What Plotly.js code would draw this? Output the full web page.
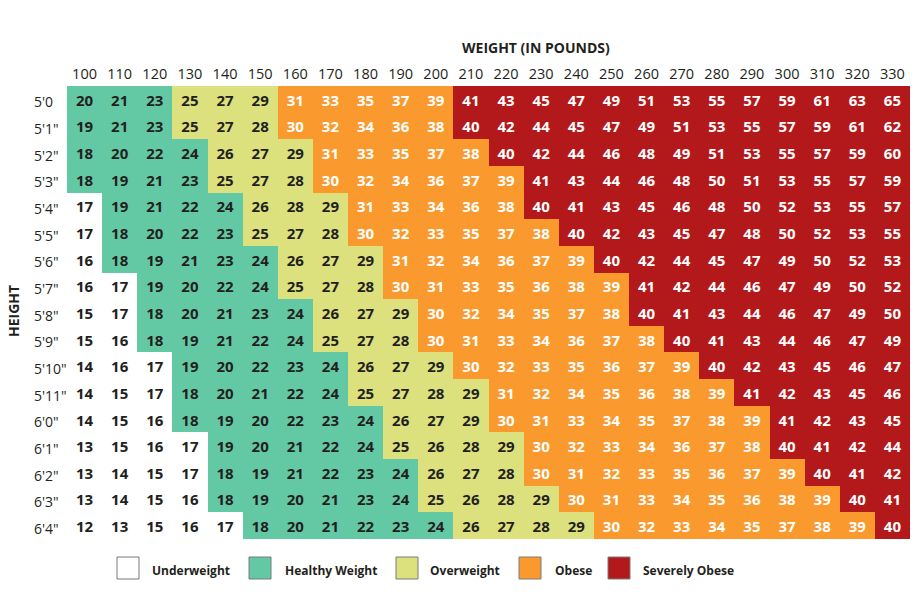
<!DOCTYPE html>
<html>
<head>
<meta charset="utf-8">
<script src="https://cdn.plot.ly/plotly-3.0.1.min.js"></script>
<style>
  html, body { margin: 0; padding: 0; background: #fff; }
  #bmi-chart { width: 915px; height: 610px; }
</style>
</head>
<body>
<div id="bmi-chart"></div>
<script>
var weights = [100, 110, 120, 130, 140, 150, 160, 170, 180, 190, 200, 210,
               220, 230, 240, 250, 260, 270, 280, 290, 300, 310, 320, 330];

var heights = ["5'0", "5'1\"", "5'2\"", "5'3\"", "5'4\"", "5'5\"", "5'6\"", "5'7\"", "5'8\"",
               "5'9\"", "5'10\"", "5'11\"", "6'0\"", "6'1\"", "6'2\"", "6'3\"", "6'4\""];

var bmi = [
  [20, 21, 23, 25, 27, 29, 31, 33, 35, 37, 39, 41, 43, 45, 47, 49, 51, 53, 55, 57, 59, 61, 63, 65],
  [19, 21, 23, 25, 27, 28, 30, 32, 34, 36, 38, 40, 42, 44, 45, 47, 49, 51, 53, 55, 57, 59, 61, 62],
  [18, 20, 22, 24, 26, 27, 29, 31, 33, 35, 37, 38, 40, 42, 44, 46, 48, 49, 51, 53, 55, 57, 59, 60],
  [18, 19, 21, 23, 25, 27, 28, 30, 32, 34, 36, 37, 39, 41, 43, 44, 46, 48, 50, 51, 53, 55, 57, 59],
  [17, 19, 21, 22, 24, 26, 28, 29, 31, 33, 34, 36, 38, 40, 41, 43, 45, 46, 48, 50, 52, 53, 55, 57],
  [17, 18, 20, 22, 23, 25, 27, 28, 30, 32, 33, 35, 37, 38, 40, 42, 43, 45, 47, 48, 50, 52, 53, 55],
  [16, 18, 19, 21, 23, 24, 26, 27, 29, 31, 32, 34, 36, 37, 39, 40, 42, 44, 45, 47, 49, 50, 52, 53],
  [16, 17, 19, 20, 22, 24, 25, 27, 28, 30, 31, 33, 35, 36, 38, 39, 41, 42, 44, 46, 47, 49, 50, 52],
  [15, 17, 18, 20, 21, 23, 24, 26, 27, 29, 30, 32, 34, 35, 37, 38, 40, 41, 43, 44, 46, 47, 49, 50],
  [15, 16, 18, 19, 21, 22, 24, 25, 27, 28, 30, 31, 33, 34, 36, 37, 38, 40, 41, 43, 44, 46, 47, 49],
  [14, 16, 17, 19, 20, 22, 23, 24, 26, 27, 29, 30, 32, 33, 35, 36, 37, 39, 40, 42, 43, 45, 46, 47],
  [14, 15, 17, 18, 20, 21, 22, 24, 25, 27, 28, 29, 31, 32, 34, 35, 36, 38, 39, 41, 42, 43, 45, 46],
  [14, 15, 16, 18, 19, 20, 22, 23, 24, 26, 27, 29, 30, 31, 33, 34, 35, 37, 38, 39, 41, 42, 43, 45],
  [13, 15, 16, 17, 19, 20, 21, 22, 24, 25, 26, 28, 29, 30, 32, 33, 34, 36, 37, 38, 40, 41, 42, 44],
  [13, 14, 15, 17, 18, 19, 21, 22, 23, 24, 26, 27, 28, 30, 31, 32, 33, 35, 36, 37, 39, 40, 41, 42],
  [13, 14, 15, 16, 18, 19, 20, 21, 23, 24, 25, 26, 28, 29, 30, 31, 33, 34, 35, 36, 38, 39, 40, 41],
  [12, 13, 15, 16, 17, 18, 20, 21, 22, 23, 24, 26, 27, 28, 29, 30, 32, 33, 34, 35, 37, 38, 39, 40]
];

var categoryLabels = ['Underweight', 'Healthy Weight', 'Overweight', 'Obese', 'Severely Obese'];
var categoryColors = ['#ffffff', '#63c9a5', '#dce07d', '#fa9a2e', '#b3191b'];
var categoryStart = [0, 18, 25, 30, 40];   // lowest BMI in each band

var FONT = '"Open Sans", "DejaVu Sans", sans-serif';
var DARK = '#231f20';

function band(v) {
  var c = 0;
  for (var i = 0; i < categoryStart.length; i++) {
    if (v >= categoryStart[i]) c = i;
  }
  return c;
}

// category grid for the cell colours
var cat = bmi.map(function (row) { return row.map(band); });

// discrete colour scale, one flat step per band
var n = categoryColors.length;
var scale = [];
categoryColors.forEach(function (c, i) {
  scale.push([i / n, c]);
  scale.push([(i + 1) / n, c]);
});

// flat lists for the number labels
var tx = [], ty = [], tt = [], tc = [];
bmi.forEach(function (row, r) {
  row.forEach(function (v, c) {
    tx.push(weights[c]);
    ty.push(heights[r]);
    tt.push(String(v));
    tc.push(band(v) >= 3 ? '#ffffff' : DARK);
  });
});

var cells = {
  type: 'heatmap',
  x: weights,
  y: heights,
  z: cat,
  zmin: -0.5,
  zmax: n - 0.5,
  colorscale: scale,
  showscale: false,
  hoverinfo: 'skip'
};

// numbers sit a little below the cell middle in the original,
// so they go on an overlaid copy of the y axis nudged down a bit
var numbers = {
  type: 'scatter',
  mode: 'text',
  x: tx,
  y: ty,
  yaxis: 'y2',
  text: tt,
  textposition: 'middle center',
  textfont: { family: FONT, size: 15, weight: 700, color: tc },
  hoverinfo: 'skip',
  showlegend: false
};

var M = { l: 67, r: 5, t: 86, b: 71 };
var W = 915, H = 610;
var pw = W - M.l - M.r, ph = H - M.t - M.b;
function px(x) { return (x - M.l) / pw; }
function py(y) { return 1 - (y - M.t) / ph; }
var nudge = 0.1;

var annotations = [];
heights.forEach(function (h) {
  annotations.push({
    xref: 'paper', yref: 'y2', x: px(32), y: h, xanchor: 'left', yanchor: 'middle',
    text: h, showarrow: false, font: { family: FONT, size: 14, color: DARK }
  });
});
annotations.push({
  xref: 'paper', yref: 'paper', x: px(536), y: py(47), xanchor: 'center', yanchor: 'middle',
  text: '<b>WEIGHT (IN POUNDS)</b>', showarrow: false, font: { family: FONT, size: 14, color: DARK }
});
annotations.push({
  xref: 'paper', yref: 'paper', x: px(13), y: py(311), xanchor: 'center', yanchor: 'middle',
  text: '<b>HEIGHT</b>', textangle: -90, showarrow: false, font: { family: FONT, size: 14, color: DARK }
});

// legend along the bottom: swatch + label
var boxLeft = [117, 249, 396, 519, 608];
var labelLeft = [150, 283, 428, 553, 641];
var shapes = [];
categoryLabels.forEach(function (lab, i) {
  shapes.push({
    type: 'rect', xref: 'paper', yref: 'paper',
    x0: px(boxLeft[i]), x1: px(boxLeft[i] + 22), y0: py(557), y1: py(579),
    fillcolor: categoryColors[i], line: { color: '#7a7a7a', width: 1 }
  });
  annotations.push({
    xref: 'paper', yref: 'paper', x: px(labelLeft[i]), y: py(570), xanchor: 'left', yanchor: 'middle',
    text: '<b>' + lab + '</b>', showarrow: false, font: { family: FONT, size: 12, color: DARK }
  });
});

var yBase = {
  type: 'category',
  categoryorder: 'array',
  categoryarray: heights,
  showticklabels: false,
  ticks: '',
  showgrid: false,
  zeroline: false,
  showline: false,
  fixedrange: true
};

var layout = {
  width: W,
  height: H,
  margin: M,
  paper_bgcolor: '#ffffff',
  plot_bgcolor: '#ffffff',
  showlegend: false,
  font: { family: FONT, color: DARK },
  xaxis: {
    side: 'top',
    range: [95, 335],
    tickvals: weights,
    ticktext: weights.map(String),
    ticks: '',
    ticklabelstandoff: 3,
    tickfont: { size: 14.5, color: DARK },
    showgrid: false,
    zeroline: false,
    showline: false,
    fixedrange: true
  },
  yaxis: Object.assign({}, yBase, { range: [heights.length - 0.5, -0.5] }),
  yaxis2: Object.assign({}, yBase, {
    overlaying: 'y',
    range: [heights.length - 0.5 - nudge, -0.5 - nudge]
  }),
  annotations: annotations,
  shapes: shapes
};

Plotly.newPlot('bmi-chart', [cells, numbers], layout, { displayModeBar: false, staticPlot: true });
</script>
</body>
</html>
